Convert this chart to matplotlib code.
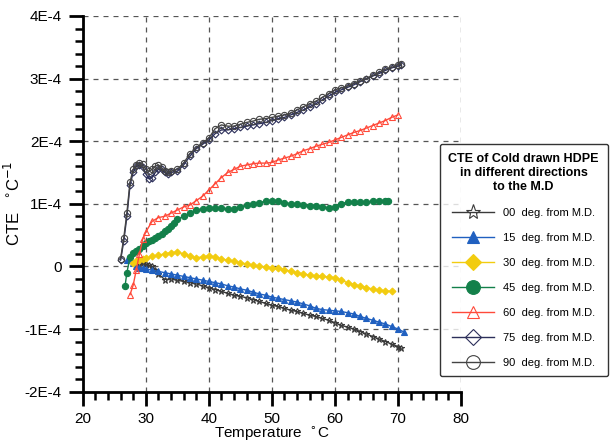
import numpy as np
import matplotlib
matplotlib.use("Agg")
import matplotlib.pyplot as plt
from matplotlib.ticker import MultipleLocator, FuncFormatter

plt.rcParams['font.family'] = ['Liberation Sans', 'DejaVu Sans']

# CTE values in units of 1E-4 per degC
x90 = [26.0, 26.5, 27.0, 27.5, 28.0, 28.5, 29.0, 29.5, 30.0, 30.5, 31.0, 31.5, 32.0, 32.5, 33.0, 33.5, 34.0,
       35, 36, 37, 38, 39, 40, 41, 42, 43, 44, 45, 46, 47, 48, 49, 50, 51, 52, 53, 54, 55, 56, 57, 58, 59,
       60, 61, 62, 63, 64, 65, 66, 67, 68, 69, 70, 70.5]
y90 = [0.12, 0.45, 0.85, 1.35, 1.55, 1.62, 1.65, 1.63, 1.55, 1.52, 1.55, 1.6, 1.62, 1.58, 1.52, 1.5, 1.52,
       1.55, 1.65, 1.8, 1.9, 1.97, 2.05, 2.2, 2.26, 2.24, 2.24, 2.27, 2.3, 2.32, 2.35, 2.36, 2.38, 2.4, 2.42,
       2.45, 2.5, 2.55, 2.6, 2.64, 2.7, 2.76, 2.82, 2.85, 2.88, 2.92, 2.96, 3.0, 3.05, 3.1, 3.15, 3.18, 3.22, 3.24]
x75 = x90
y75 = [0.1, 0.4, 0.8, 1.3, 1.5, 1.6, 1.62, 1.58, 1.48, 1.4, 1.42, 1.5, 1.55, 1.55, 1.5, 1.47, 1.5,
       1.52, 1.62, 1.76, 1.88, 1.95, 2.02, 2.12, 2.18, 2.18, 2.2, 2.22, 2.24, 2.26, 2.28, 2.3, 2.33, 2.36, 2.38,
       2.42, 2.46, 2.5, 2.55, 2.6, 2.66, 2.72, 2.78, 2.82, 2.86, 2.9, 2.95, 3.0, 3.04, 3.08, 3.13, 3.17, 3.2, 3.22]
x60 = [27.5, 28.0, 28.5, 29.0, 29.5, 30, 31, 32, 33, 34, 35, 36, 37, 38, 39, 40, 41, 42, 43, 44, 45, 46, 47,
       48, 49, 50, 51, 52, 53, 54, 55, 56, 57, 58, 59, 60, 61, 62, 63, 64, 65, 66, 67, 68, 69, 70]
y60 = [-0.45, -0.3, -0.05, 0.2, 0.43, 0.55, 0.72, 0.78, 0.8, 0.85, 0.9, 0.95, 0.98, 1.05, 1.12, 1.22, 1.32,
       1.42, 1.5, 1.55, 1.6, 1.62, 1.64, 1.65, 1.65, 1.66, 1.7, 1.73, 1.76, 1.8, 1.85, 1.88, 1.92, 1.95, 1.98,
       2.02, 2.06, 2.1, 2.14, 2.17, 2.21, 2.25, 2.29, 2.33, 2.38, 2.42]
x45 = [26.7, 27.0, 27.5, 28.0, 28.5, 29.0, 29.5, 30, 30.5, 31, 31.5, 32, 32.5, 33, 33.5, 34, 34.5, 35, 36, 37,
       38, 39, 40, 41, 42, 43, 44, 45, 46, 47, 48, 49, 50, 51, 52, 53, 54, 55, 56, 57, 58, 59, 60, 61, 62, 63,
       64, 65, 66, 67, 68, 68.5]
y45 = [-0.32, -0.1, 0.15, 0.22, 0.25, 0.28, 0.32, 0.38, 0.4, 0.42, 0.45, 0.48, 0.52, 0.56, 0.6, 0.64, 0.7,
       0.75, 0.8, 0.85, 0.9, 0.92, 0.93, 0.94, 0.93, 0.92, 0.92, 0.95, 0.98, 1.0, 1.02, 1.04, 1.05, 1.04, 1.02,
       1.0, 0.99, 0.98, 0.97, 0.96, 0.95, 0.94, 0.95, 1.0, 1.03, 1.03, 1.03, 1.03, 1.04, 1.04, 1.05, 1.05]
x30 = [28.0, 28.5, 29, 29.5, 30, 31, 32, 33, 34, 35, 36, 37, 38, 39, 40, 41, 42, 43, 44, 45, 46, 47, 48, 49,
       50, 51, 52, 53, 54, 55, 56, 57, 58, 59, 60, 61, 62, 63, 64, 65, 66, 67, 68, 69]
y30 = [0.05, 0.08, 0.1, 0.12, 0.13, 0.16, 0.18, 0.2, 0.22, 0.23, 0.2, 0.16, 0.14, 0.15, 0.17, 0.15, 0.12,
       0.1, 0.08, 0.06, 0.04, 0.02, 0.0, -0.01, -0.02, -0.03, -0.05, -0.08, -0.1, -0.12, -0.14, -0.15, -0.16,
       -0.17, -0.18, -0.22, -0.26, -0.29, -0.31, -0.34, -0.36, -0.38, -0.39, -0.4]
x15 = [27.0, 27.5, 28, 28.5, 29, 29.5, 30, 31, 32, 33, 34, 35, 36, 37, 38, 39, 40, 41, 42, 43, 44, 45, 46,
       47, 48, 49, 50, 51, 52, 53, 54, 55, 56, 57, 58, 59, 60, 61, 62, 63, 64, 65, 66, 67, 68, 69, 70, 71]
y15 = [0.1, 0.11, 0.06, 0.0, -0.02, -0.03, -0.04, -0.06, -0.08, -0.1, -0.12, -0.14, -0.16, -0.18, -0.2,
       -0.22, -0.24, -0.26, -0.28, -0.31, -0.33, -0.36, -0.38, -0.41, -0.44, -0.46, -0.49, -0.51, -0.53, -0.55,
       -0.57, -0.6, -0.63, -0.67, -0.69, -0.7, -0.71, -0.72, -0.74, -0.76, -0.8, -0.83, -0.86, -0.89, -0.92,
       -0.96, -1.0, -1.05]
x00 = [29.0, 29.5, 30, 30.5, 31, 31.5, 32, 33, 34, 35, 36, 37, 38, 39, 40, 41, 42, 43, 44, 45, 46, 47, 48,
       49, 50, 51, 52, 53, 54, 55, 56, 57, 58, 59, 60, 61, 62, 63, 64, 65, 66, 67, 68, 69, 70, 70.5]
y00 = [0.02, 0.05, 0.04, 0.02, 0.0, -0.05, -0.12, -0.21, -0.2, -0.22, -0.24, -0.26, -0.28, -0.31, -0.34,
       -0.37, -0.4, -0.43, -0.46, -0.48, -0.5, -0.53, -0.56, -0.59, -0.62, -0.64, -0.67, -0.7, -0.72, -0.75,
       -0.78, -0.8, -0.83, -0.86, -0.9, -0.94, -0.97, -1.0, -1.04, -1.08, -1.12, -1.16, -1.2, -1.24, -1.28, -1.31]

labels = ["00  deg. from M.D.", "15  deg. from M.D.", "30  deg. from M.D.", "45  deg. from M.D.",
          "60  deg. from M.D.", "75  deg. from M.D.", "90  deg. from M.D."]

fig = plt.figure(figsize=(6.13, 4.44), dpi=100)
ax = fig.add_axes([0.135, 0.118, 0.617, 0.846])

series = [
    (x00, y00, "#3a3a3a", "*", "none", 5),
    (x15, y15, "#2060c0", "^", "#2060c0", 4),
    (x30, y30, "#f2cc10", "D", "#f2cc10", 3.5),
    (x45, y45, "#13804a", "o", "#13804a", 4.5),
    (x60, y60, "#ff4a3a", "^", "none", 4),
    (x75, y75, "#2c2f5a", "D", "none", 3.5),
    (x90, y90, "#444444", "o", "none", 4.5),
]
handles = []
for (xs, ys, c, m, fc, ms), lab in zip(series, labels):
    h, = ax.plot(xs, np.array(ys) * 1e-4, color=c, lw=1.0, marker=m, ms=ms,
                 mfc=fc, mec=c, mew=0.8, label=lab)
    handles.append(h)

ax.set_xlim(20, 80)
ax.set_ylim(-2e-4, 4e-4)
ax.xaxis.set_major_locator(MultipleLocator(10))
ax.xaxis.set_minor_locator(MultipleLocator(2))
ax.yaxis.set_major_locator(MultipleLocator(1e-4))
ax.yaxis.set_minor_locator(MultipleLocator(2e-5))


def fmt(v, pos):
    n = int(round(v / 1e-4))
    return "0" if n == 0 else "%dE-4" % n


ax.yaxis.set_major_formatter(FuncFormatter(fmt))
ax.grid(True, which="major", color="#555555", ls=(0, (4, 4)), lw=0.9)
for s in ("top", "right"):
    ax.spines[s].set_visible(False)
for s in ("left", "bottom"):
    ax.spines[s].set_linewidth(2)
ax.tick_params(which="major", direction="out", length=10, width=2, labelsize=11, pad=5)
ax.tick_params(which="minor", direction="out", length=6, width=1.8)
ax.set_xlabel("Temperature  $^{\\circ}$C", fontsize=11, labelpad=-1)
ax.set_ylabel("CTE   $^{\\circ}$C$^{-1}$", fontsize=12, labelpad=1)

leg = fig.legend(handles=handles, loc="upper left", bbox_to_anchor=(0.708, 0.688),
                 title="CTE of Cold drawn HDPE\nin different directions\nto the M.D",
                 fontsize=8, markerscale=2.2, handlelength=3.8, labelspacing=1.35,
                 frameon=True, fancybox=True, edgecolor="black", borderpad=0.8)
leg.get_title().set_fontweight("bold")
leg.get_title().set_fontsize(9)
leg.get_title().set_multialignment("center")
leg.get_frame().set_linewidth(1.0)

fig.savefig("out.png", dpi=100)
